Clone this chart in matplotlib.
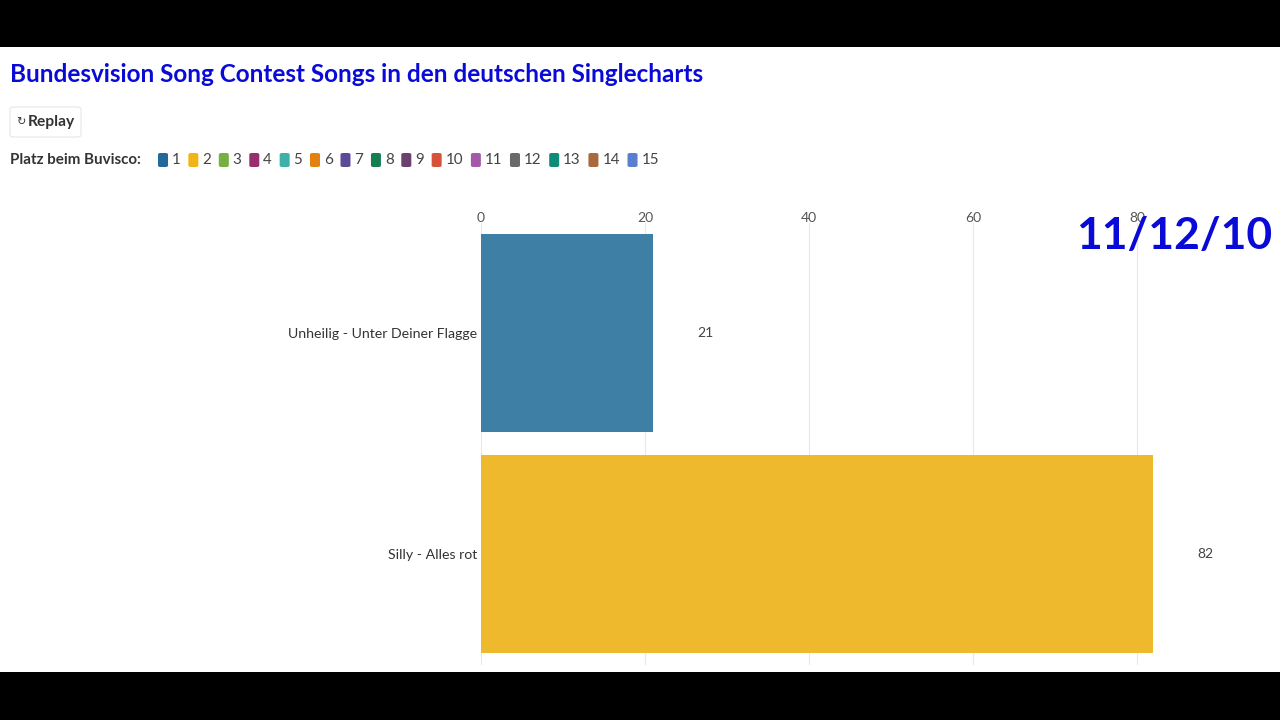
import matplotlib
matplotlib.use("Agg")
import matplotlib.pyplot as plt
from matplotlib.patches import Rectangle, FancyBboxPatch

# ---- data ----
songs = ["Unheilig - Unter Deiner Flagge", "Silly - Alles rot"]
values = [21, 82]
bar_colors = ["#3e7fa6", "#eeb92d"]
x_ticks = [0, 20, 40, 60, 80]
legend_labels = ["1", "2", "3", "4", "5", "6", "7", "8", "9", "10", "11", "12", "13", "14", "15"]
legend_colors = ["#22699a", "#f0b416", "#76b043", "#972f6f", "#3eafa9", "#e2810f",
                 "#5c4a99", "#148052", "#6b3f6e", "#d6523b", "#a459a8", "#6a6a6a",
                 "#0f8c78", "#a8693e", "#5a7fd0"]
title = "Bundesvision Song Contest Songs in den deutschen Singlecharts"
legend_title = "Platz beim Buvisco:"
date_label = "11/12/10"

W, H = 1280, 720
fig = plt.figure(figsize=(W / 100, H / 100), dpi=100)
fig.patch.set_facecolor("white")
FONT = ["Lato", "DejaVu Sans"]
BLUE = "#0a0ad8"

def px(x, y):
    return x / W, 1 - y / H

# black letterbox bands
fig.patches.append(Rectangle((0, 1 - 47 / H), 1, 47 / H, transform=fig.transFigure,
                             facecolor="black", edgecolor="none", zorder=0))
fig.patches.append(Rectangle((0, 0), 1, 48 / H, transform=fig.transFigure,
                             facecolor="black", edgecolor="none", zorder=0))

# title
fig.text(*px(10, 74), title, fontsize=17.5, fontweight="bold", color=BLUE,
         family=FONT, va="center", ha="left")

# replay button
fig.patches.append(FancyBboxPatch(px(10, 137), 71 / W, 30 / H, transform=fig.transFigure,
                                  boxstyle="round,pad=0,rounding_size=0.003",
                                  facecolor="white", edgecolor="#e6e6e6", linewidth=0.8))
fig.text(*px(16, 122), "↻", fontsize=8, color="#333333", family=["DejaVu Sans"],
         va="center", ha="left")
fig.text(*px(28, 122), "Replay", fontsize=11.2, fontweight="bold", color="#333333",
         family=FONT, va="center", ha="left")

# legend
fig.canvas.draw()
renderer = fig.canvas.get_renderer()
t = fig.text(*px(10, 160), legend_title, fontsize=10.9, fontweight="bold",
             color="#333333", family=FONT, va="center", ha="left")
x = 158
for lab, col in zip(legend_labels, legend_colors):
    fig.patches.append(FancyBboxPatch(px(x, 167), 10 / W, 14 / H, transform=fig.transFigure,
                                      boxstyle="round,pad=0,rounding_size=0.002",
                                      facecolor=col, edgecolor="none"))
    tt = fig.text(*px(x + 14, 160), lab, fontsize=10.9, color="#444444",
                  family=FONT, va="center", ha="left")
    w = tt.get_window_extent(renderer).width
    x = x + 14 + w + 7.6

# main axes
left, right, top, bottom = 481, 1280, 222.5, 664.5
xmax = (right - left) / 8.2
ax = fig.add_axes([left / W, 1 - bottom / H, (right - left) / W, (bottom - top) / H])
ax.set_xlim(0, xmax)
ax.set_ylim(1.5, -0.5)
ypos = list(range(len(songs)))
ax.barh(ypos, values, height=0.9, color=bar_colors, zorder=2)
ax.set_xticks(x_ticks)
ax.xaxis.tick_top()
ax.tick_params(axis="x", length=0, pad=-1, labelsize=10, labelcolor="#555555")
for lbl in ax.get_xticklabels():
    lbl.set_family(FONT)
ax.set_yticks(ypos)
ax.set_yticklabels(songs, fontsize=10.2, color="#333333", family=FONT)
ax.tick_params(axis="y", length=0, pad=3)
ax.grid(axis="x", color="#e8e8e8", linewidth=0.8, zorder=0)
for s in ax.spines.values():
    s.set_visible(False)
ax.set_facecolor("none")
for yv, v in zip(ypos, values):
    ax.annotate(str(v), (v, yv), xytext=(52 * 72 / 100, 0), textcoords="offset points",
                va="center", ha="center", fontsize=10, color="#444444", family=FONT)

# date overlay
fig.text(*px(1272, 236), date_label, fontsize=32, fontweight="bold", color=BLUE,
         family=FONT, va="center", ha="right", zorder=10)

fig.savefig("out.png", dpi=100, facecolor=fig.get_facecolor())
